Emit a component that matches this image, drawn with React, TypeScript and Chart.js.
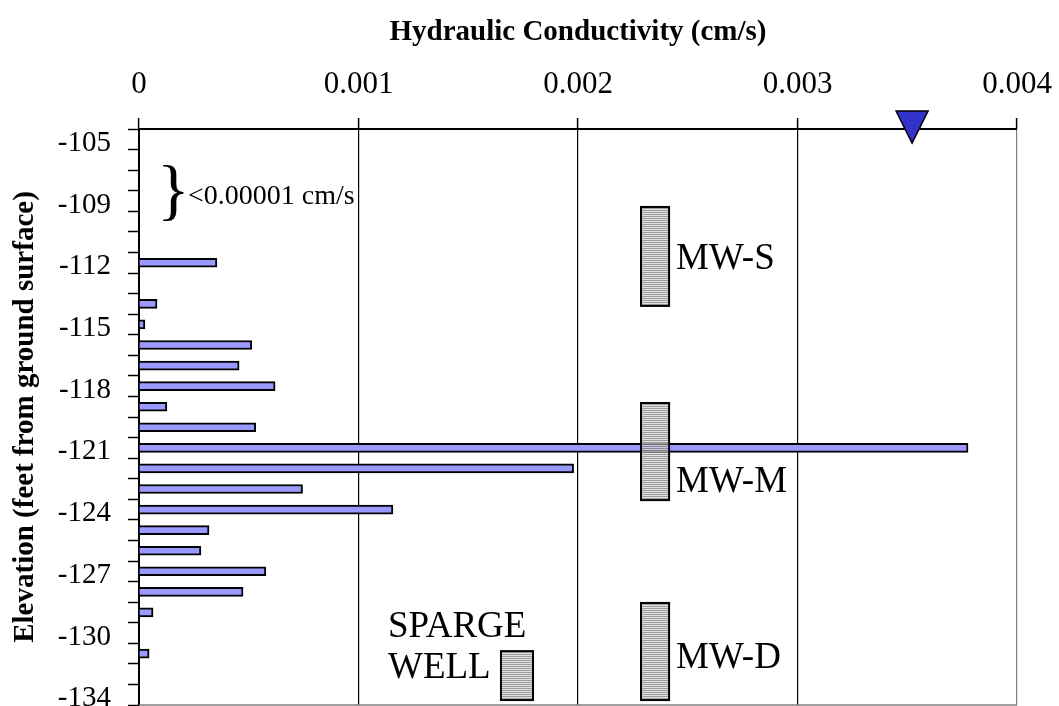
import React, { useEffect, useRef } from "react";
import { Chart, registerables } from "chart.js";

Chart.register(...registerables);

// Elevation tick labels (shown on every third category, top to bottom)
const depthLabels = ["-105", "-109", "-112", "-115", "-118", "-121", "-124", "-127", "-130", "-134"];
const LABEL_EVERY = 3;
const CATEGORY_COUNT = 28;

// Hydraulic conductivity (cm/s) per sample interval, top to bottom (null = no bar)
const conductivity: (number | null)[] = [
  null, null, null, null, null, null,
  0.000355, null, 0.000082, 0.000027, 0.000514, 0.000456,
  0.00062, 0.000127, 0.000532, 0.003777, 0.00198, 0.000745,
  0.001157, 0.000319, 0.000282, 0.000578, 0.000474, 0.000064,
  null, 0.000046, null, null,
];

// X axis ticks
const xTicks = [0, 0.001, 0.002, 0.003, 0.004];

// Well screens: x range (cm/s) and y range in category index units
const wellNames = ["MW-S", "MW-M", "MW-D", "SPARGE WELL"];
const wellX0 = [0.002287, 0.002287, 0.002287, 0.001649];
const wellX1 = [0.002415, 0.002415, 0.002415, 0.001795];
const wellTop = [3.29, 12.82, 22.54, 24.88];
const wellBottom = [8.1, 17.54, 27.26, 27.26];
const wellLabelY = [5.82, 16.66, 25.22, 23.71];

// Water level marker (cm/s position on the top axis)
const waterLevelX = 0.003522;

// Note for low-conductivity interval
const lowNote = "<0.00001 cm/s";
const lowNoteY = 2.76;

const categories = Array.from({ length: CATEGORY_COUNT }, (_, i) =>
  i % LABEL_EVERY === 0 ? depthLabels[i / LABEL_EVERY] : ""
);

const SERIF = "'Liberation Serif', 'Times New Roman', serif";

let stripePattern: CanvasPattern | null = null;
function getPattern(ctx: CanvasRenderingContext2D) {
  if (stripePattern) return stripePattern;
  const c = document.createElement("canvas");
  c.width = 4;
  c.height = 2;
  const p = c.getContext("2d")!;
  p.fillStyle = "rgba(130,130,130,0.8)";
  p.fillRect(0, 0, 4, 1);
  p.fillStyle = "rgba(215,215,215,0.75)";
  p.fillRect(0, 1, 4, 1);
  stripePattern = ctx.createPattern(c, "repeat");
  return stripePattern;
}

const overlayPlugin = {
  id: "overlay",
  afterDatasetsDraw(chart: any) {
    const { ctx, chartArea } = chart;
    const x = chart.scales.x;
    const y = chart.scales.y;
    ctx.save();

    // plot area bottom border
    ctx.strokeStyle = "#808080";
    ctx.lineWidth = 1.5;
    ctx.beginPath();
    ctx.moveTo(chartArea.left, chartArea.bottom);
    ctx.lineTo(chartArea.right, chartArea.bottom);
    ctx.stroke();

    // well screens
    for (let i = 0; i < wellNames.length; i++) {
      const l = x.getPixelForValue(wellX0[i]);
      const r = x.getPixelForValue(wellX1[i]);
      const t = y.getPixelForValue(wellTop[i]);
      const b = y.getPixelForValue(wellBottom[i]);
      ctx.fillStyle = getPattern(ctx) as any;
      ctx.fillRect(l, t, r - l, b - t);
      ctx.strokeStyle = "#000";
      ctx.lineWidth = 2;
      ctx.strokeRect(l, t, r - l, b - t);
      ctx.fillStyle = "#000";
      ctx.font = `37px ${SERIF}`;
      ctx.textBaseline = "middle";
      ctx.textAlign = "left";
      const ly = y.getPixelForValue(wellLabelY[i]);
      const parts = wellNames[i].split(" ");
      if (parts.length === 1) {
        ctx.fillText(parts[0], r + 7, ly);
      } else {
        const lx = l - 113;
        parts.forEach((p, k) => ctx.fillText(p, lx, ly + k * 41));
      }
    }

    // brace + note
    const x0 = x.getPixelForValue(0);
    const ny = y.getPixelForValue(lowNoteY);
    ctx.fillStyle = "#000";
    ctx.textAlign = "left";
    ctx.textBaseline = "middle";
    ctx.font = `68px ${SERIF}`;
    ctx.fillText("}", x0 + 18, ny - 2);
    ctx.font = `28px ${SERIF}`;
    ctx.fillText(lowNote, x0 + 49, ny + 1);

    // water level triangle
    const tx = x.getPixelForValue(waterLevelX);
    const ty = chartArea.top;
    ctx.beginPath();
    ctx.moveTo(tx - 16, ty - 18);
    ctx.lineTo(tx + 16, ty - 18);
    ctx.lineTo(tx, ty + 14);
    ctx.closePath();
    ctx.fillStyle = "#3333CC";
    ctx.fill();
    ctx.strokeStyle = "#000";
    ctx.lineWidth = 1.5;
    ctx.stroke();

    ctx.restore();
  },
};

export default function App() {
  const ref = useRef<HTMLCanvasElement | null>(null);
  useEffect(() => {
    if (!ref.current) return;
    const chart = new Chart(ref.current, {
      type: "bar",
      data: {
        labels: categories,
        datasets: [
          {
            data: conductivity as any,
            backgroundColor: "#9999FF",
            borderColor: "#000",
            borderWidth: 2,
            barThickness: 9,
          },
        ],
      },
      options: {
        indexAxis: "y",
        responsive: false,
        animation: false,
        layout: { padding: { left: 0, right: 42, top: 0, bottom: 1 } },
        plugins: { legend: { display: false }, tooltip: { enabled: false } },
        scales: {
          x: {
            type: "linear",
            position: "top",
            min: 0,
            max: 0.004,
            afterBuildTicks: (scale: any) => {
              scale.ticks = xTicks.map((v) => ({ value: v }));
            },
            afterFit: (scale: any) => {
              scale.height = 129;
              scale.paddingLeft = 0;
              scale.paddingRight = 0;
            },
            ticks: {
              color: "#000",
              font: { family: SERIF, size: 31 },
              padding: 15,
              callback: (v: any) => (v === 0 ? "0" : Number(v).toFixed(3)),
            },
            grid: {
              color: (c: any) => (c.tick && c.tick.value > 0.0039 ? "#808080" : "#000"),
              lineWidth: 1.2,
              drawTicks: true,
              tickLength: 11,
              tickColor: "#000",
              tickWidth: 1.5,
            },
            border: { color: "#000", width: 2 },
            title: {
              display: true,
              text: "Hydraulic Conductivity (cm/s)",
              color: "#000",
              font: { family: SERIF, size: 29, weight: "bold" },
              padding: { top: 15, bottom: 0 },
            },
          },
          y: {
            type: "category",
            position: "left",
            offset: true,
            afterFit: (scale: any) => {
              scale.width = 139;
              scale.paddingTop = 0;
              scale.paddingBottom = 0;
            },
            ticks: {
              autoSkip: false,
              color: "#000",
              font: { family: SERIF, size: 29 },
              padding: 17,
              labelOffset: 4,
            },
            grid: {
              offset: true,
              drawOnChartArea: false,
              drawTicks: true,
              tickLength: 11,
              tickColor: "#000",
              tickWidth: 1.5,
            },
            border: { color: "#000", width: 2 },
            title: {
              display: true,
              text: "Elevation (feet from ground surface)",
              color: "#000",
              font: { family: SERIF, size: 29, weight: "bold" },
              padding: { top: 8, bottom: 0 },
            },
          },
        },
      } as any,
      plugins: [overlayPlugin],
    });
    return () => chart.destroy();
  }, []);
  return (
    <div style={{ position: "absolute", left: 0, top: 0, width: 1059, height: 706, background: "#fff" }}>
      <canvas ref={ref} width={1059} height={706} style={{ display: "block" }} />
    </div>
  );
}
